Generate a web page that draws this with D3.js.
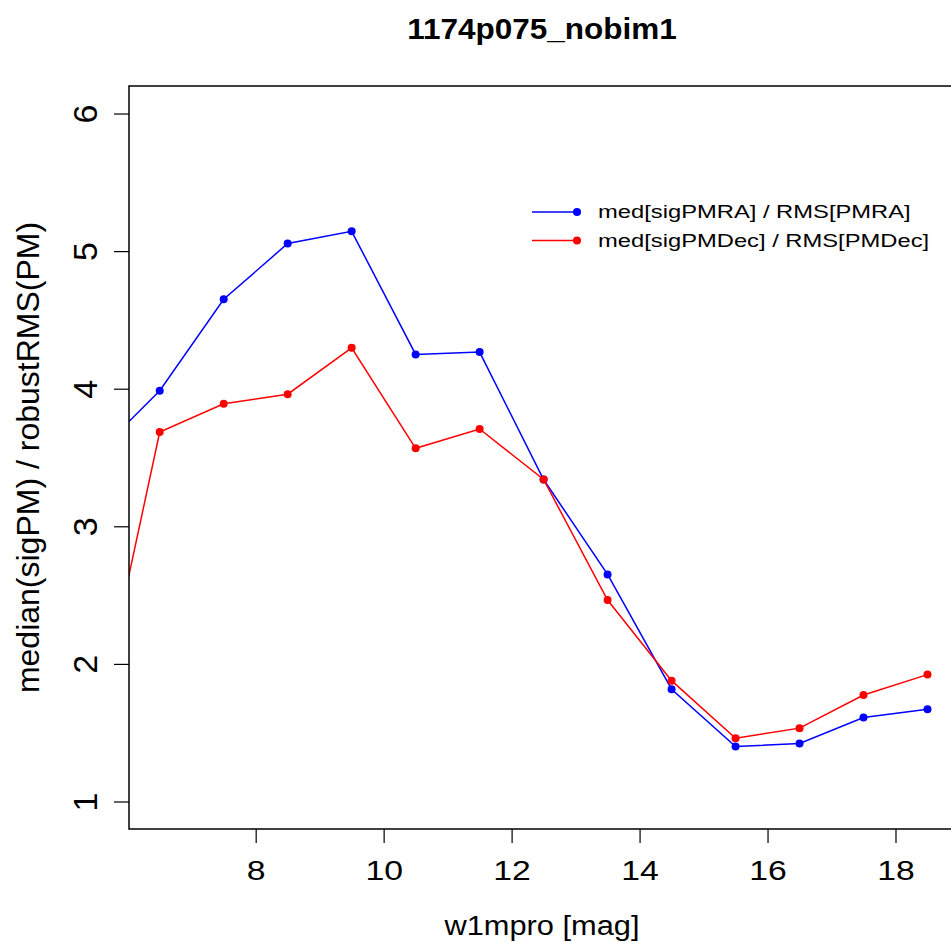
<!DOCTYPE html>
<html>
<head>
  <meta charset="utf-8">
  <title>1174p075_nobim1</title>
  <style>
    body { margin: 0; background: #fff; }
    svg { display: block; font-family: "Liberation Sans", Arial, Helvetica, sans-serif; }
  </style>
</head>
<body>
  <svg id="chart"></svg>
  <script src="https://cdnjs.cloudflare.com/ajax/libs/d3/7.8.5/d3.min.js"></script>
  <script>
    // magnitude bins (bin centres)
    const mags = [5.5, 6.5, 7.5, 8.5, 9.5, 10.5, 11.5, 12.5, 13.5, 14.5, 15.5, 16.5, 17.5, 18.5];
    // med[sigPMRA] / RMS[PMRA]
    const ratioRA = [3.52, 3.985, 4.65, 5.055, 5.144, 4.249, 4.266, 3.34, 2.65, 1.816, 1.399, 1.421, 1.61, 1.671];
    // med[sigPMDec] / RMS[PMDec]
    const ratioDec = [1.52, 3.685, 3.89, 3.96, 4.297, 3.567, 3.707, 3.34, 2.464, 1.878, 1.46, 1.533, 1.774, 1.922];
    const xTicks = [8, 10, 12, 14, 16, 18];
    const yTicks = [1, 2, 3, 4, 5, 6];
    const seriesNames = ["med[sigPMRA] / RMS[PMRA]", "med[sigPMDec] / RMS[PMDec]"];
    const seriesColors = ["#0000ff", "#ff0000"];

    const width = 951, height = 943;
    const plot = { left: 129, top: 86, right: 955, bottom: 829 };

    const svg = d3.select("#chart")
      .attr("width", width)
      .attr("height", height)
      .attr("viewBox", [0, 0, width, height]);

    const x = d3.scaleLinear().domain([6.02, 18.93]).range([plot.left, plot.right]);
    const y = d3.scaleLinear().domain([0.8, 6.2]).range([plot.bottom, plot.top]);

    svg.append("defs").append("clipPath").attr("id", "clip")
      .append("rect")
      .attr("x", plot.left).attr("y", plot.top)
      .attr("width", plot.right - plot.left).attr("height", plot.bottom - plot.top);

    /** Series lines and points */
    const series = [ratioRA, ratioDec];
    const line = d3.line().x((d, i) => x(mags[i])).y(d => y(d));
    const gData = svg.append("g").attr("clip-path", "url(#clip)");
    series.forEach((vals, s) => {
      gData.append("path")
        .attr("d", line(vals))
        .attr("fill", "none")
        .attr("stroke", seriesColors[s])
        .attr("stroke-width", 1.5);
      gData.selectAll(null)
        .data(vals)
        .join("circle")
        .attr("cx", (d, i) => x(mags[i]))
        .attr("cy", d => y(d))
        .attr("r", 4)
        .attr("fill", seriesColors[s]);
    });

    /** Frame */
    svg.append("rect")
      .attr("x", plot.left).attr("y", plot.top)
      .attr("width", plot.right - plot.left).attr("height", plot.bottom - plot.top)
      .attr("fill", "none").attr("stroke", "#000").attr("stroke-width", 1.5);

    /** Axes */
    const gx = svg.append("g")
      .attr("transform", `translate(0,${plot.bottom})`)
      .call(d3.axisBottom(x).tickValues(xTicks).tickSize(14).tickPadding(18).tickFormat(d3.format("d")));
    gx.select(".domain").remove();
    gx.selectAll("line").attr("stroke-width", 1.2);
    gx.selectAll("text")
      .attr("font-size", 27).attr("font-family", null).attr("fill", "#000")
      .attr("transform", "scale(1.25,1)");

    const gy = svg.append("g")
      .attr("transform", `translate(${plot.left},0)`)
      .call(d3.axisLeft(y).tickValues(yTicks).tickSize(15).tickFormat(d3.format("d")));
    gy.select(".domain").remove();
    gy.selectAll("line").attr("stroke-width", 1.2);
    gy.selectAll("text")
      .attr("font-size", 34).attr("font-family", null).attr("fill", "#000")
      .attr("x", null).attr("dy", null)
      .attr("text-anchor", "middle")
      .attr("transform", "translate(-32,0) rotate(-90)");

    /** Titles */
    svg.append("text")
      .attr("transform", `translate(${(plot.left + plot.right) / 2},39) scale(1.05,1)`)
      .attr("text-anchor", "middle")
      .attr("font-size", 30).attr("font-weight", "bold")
      .text("1174p075_nobim1");

    svg.append("text")
      .attr("transform", `translate(${(plot.left + plot.right) / 2},935) scale(1.1,1)`)
      .attr("text-anchor", "middle")
      .attr("font-size", 28)
      .text("w1mpro [mag]");

    svg.append("text")
      .attr("transform", `translate(39,${(plot.top + plot.bottom) / 2}) rotate(-90)`)
      .attr("text-anchor", "middle")
      .attr("font-size", 32)
      .text("median(sigPM) / robustRMS(PM)");

    /** Legend */
    const legend = svg.append("g").attr("transform", "translate(532,212)");
    seriesNames.forEach((name, i) => {
      const row = legend.append("g").attr("transform", `translate(0,${i * 28.5})`);
      row.append("line").attr("x1", 0).attr("x2", 45)
        .attr("stroke", seriesColors[i]).attr("stroke-width", 1.5);
      row.append("circle").attr("cx", 45).attr("r", 4).attr("fill", seriesColors[i]);
      row.append("text")
        .attr("transform", "translate(66,0) scale(1.32,1)")
        .attr("dy", "0.35em")
        .attr("font-size", 18).text(name);
    });
  </script>
</body>
</html>
